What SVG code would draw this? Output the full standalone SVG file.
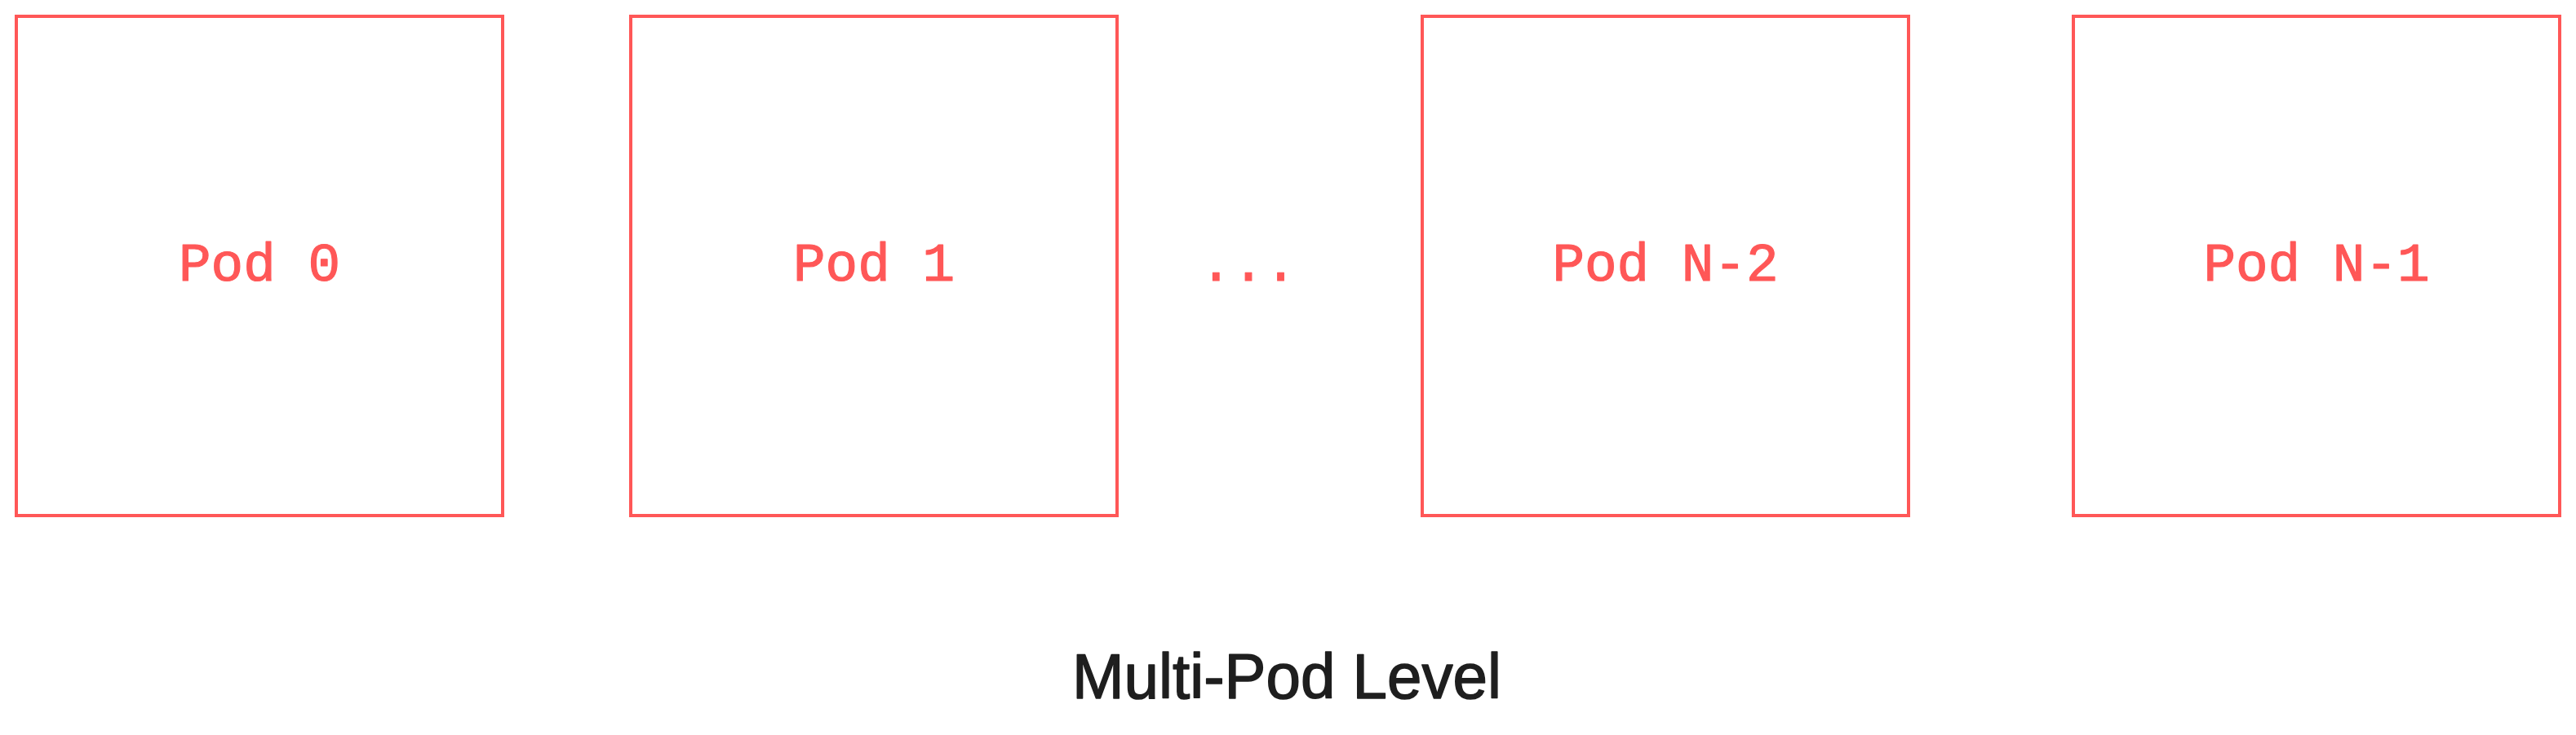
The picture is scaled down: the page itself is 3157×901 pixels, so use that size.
<svg xmlns="http://www.w3.org/2000/svg" width="3157" height="901" viewBox="0 0 3157 901">
<style>
.box{fill:none;stroke:#ff5757;stroke-width:4}
.lbl{font-family:"Liberation Mono","DejaVu Sans Mono",monospace;font-size:66px;fill:#ff5757;stroke:#ff5757;stroke-width:1.2;stroke-linejoin:round;text-anchor:middle}
.title{font-family:"Liberation Sans","DejaVu Sans",sans-serif;font-size:78px;fill:#1e1e1e;stroke:#1e1e1e;stroke-width:1.5;stroke-linejoin:round;text-anchor:middle}
</style>
<rect width="3157" height="901" fill="#ffffff"/>
<g id="connectors"></g>
<g id="pod0"><rect class="box" x="20" y="20" width="596" height="612"/><text class="lbl" x="318" y="344">Pod 0</text></g>
<g id="pod1"><rect class="box" x="773" y="20" width="596" height="612"/><text class="lbl" x="1071" y="344">Pod 1</text></g>
<g id="dots"><text class="lbl" x="1530" y="344">...</text></g>
<g id="podN2"><rect class="box" x="1743" y="20" width="596" height="612"/><text class="lbl" x="2041" y="344">Pod N-2</text></g>
<g id="podN1"><rect class="box" x="2541" y="20" width="596" height="612"/><text class="lbl" x="2839" y="344">Pod N-1</text></g>
<g id="title"><text class="title" x="1577" y="856" textLength="526" lengthAdjust="spacingAndGlyphs">Multi-Pod Level</text></g>
</svg>
